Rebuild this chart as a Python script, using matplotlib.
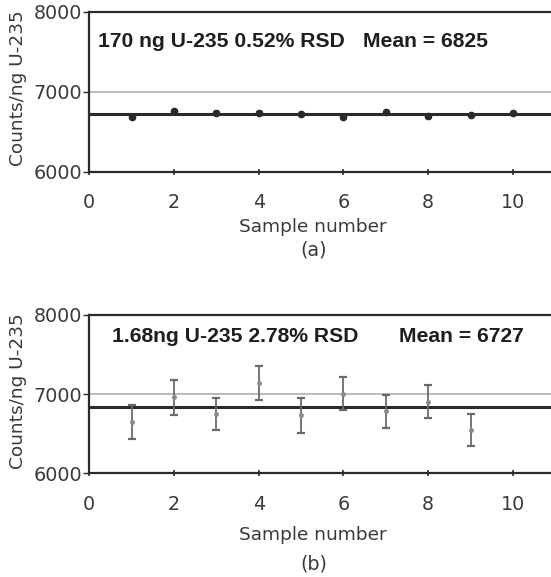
import numpy as np
import matplotlib.pyplot as plt

plt.rcParams['font.family'] = ['DejaVu Sans']

# panel (a): 170 ng U-235
samples_a = [1, 2, 3, 4, 5, 6, 7, 8, 9, 10]
counts_a = [6684, 6759, 6738, 6738, 6716, 6684, 6746, 6692, 6710, 6738]
err_a = [18, 18, 18, 18, 10, 18, 15, 15, 10, 10]
mean_line_a = 6716

# panel (b): 1.68 ng U-235
samples_b = [1, 2, 3, 4, 5, 6, 7, 8, 9]
low_b = [6428, 6742, 6545, 6922, 6512, 6797, 6574, 6700, 6344]
high_b = [6858, 7182, 6952, 7359, 6952, 7216, 6994, 7111, 6750]
mean_line_b = 6832

ref_level = 7000

W, H = 551, 577
fig = plt.figure(figsize=(W / 100, H / 100), dpi=100)
ax1 = fig.add_axes([89.3 / W, 1 - 171.7 / H, 1 - 89.3 / W, 160 / H])
ax2 = fig.add_axes([89.3 / W, 1 - 473.3 / H, 1 - 89.3 / W, 158.3 / H])

lc = '#2a2a2a'
tc = '#3a3a3a'

def px(x, y):
    return x / W, 1 - y / H

def style(ax):
    ax.set_xlim(0, 10.9)
    ax.set_ylim(6000, 8000)
    ax.set_xticks([0, 2, 4, 6, 8, 10])
    ax.set_yticks([6000, 7000, 8000])
    ax.spines['right'].set_visible(False)
    for s in ['left', 'top', 'bottom']:
        ax.spines[s].set_linewidth(1.6)
        ax.spines[s].set_color(lc)
    ax.tick_params(axis='x', direction='inout', length=5, width=1.2, colors=lc,
                   labelsize=13.8, labelcolor=tc, pad=13)
    ax.tick_params(axis='y', direction='out', length=4, width=1.0, colors=lc,
                   labelsize=13.8, labelcolor=tc, pad=1)
    ax.axhline(ref_level, color='#a8a8a8', lw=1.1, zorder=1)
    ax.set_ylabel('Counts/ng U-235', fontsize=13.3, color=tc)
    ax.yaxis.set_label_coords(-(89.3 - 27) / (W - 89.3), 0.52)

style(ax1)
style(ax2)

tfont = dict(family=['Liberation Sans', 'DejaVu Sans'], fontsize=15.2,
             fontweight='bold', color='#1e1e1e', va='baseline')

# (a)
ax1.axhline(mean_line_a, color=lc, lw=2.2, zorder=2)
ax1.errorbar(samples_a, counts_a, yerr=err_a, fmt='o', ms=4.5, color=lc,
             ecolor=lc, elinewidth=1, capsize=2, zorder=3)
fig.text(*px(98, 46.7), '170 ng U-235 0.52% RSD', **tfont)
fig.text(*px(363, 46.7), 'Mean = 6825', **tfont)
fig.text(*px(312.5, 232), 'Sample number', fontsize=13.3, color=tc,
         ha='center', va='baseline')
fig.text(*px(314, 255), '(a)', fontsize=13.8, color=tc,
         ha='center', va='baseline')

# (b)
ax2.axhline(mean_line_b, color=lc, lw=2.2, zorder=2)
mid_b = [(lo + hi) / 2 for lo, hi in zip(low_b, high_b)]
half_b = [(hi - lo) / 2 for lo, hi in zip(low_b, high_b)]
ax2.errorbar(samples_b, mid_b, yerr=half_b, fmt='o', ms=2.5, color='#8a8a8a',
             ecolor='#6a6a6a', elinewidth=1.3, capsize=3, capthick=1.6, zorder=3)
fig.text(*px(111.7, 341.7), '1.68ng U-235 2.78% RSD', **tfont)
fig.text(*px(399, 341.7), 'Mean = 6727', **tfont)
fig.text(*px(312.5, 540), 'Sample number', fontsize=13.3, color=tc,
         ha='center', va='baseline')
fig.text(*px(314, 570), '(b)', fontsize=13.8, color=tc,
         ha='center', va='baseline')

fig.savefig('out.png', dpi=100)
